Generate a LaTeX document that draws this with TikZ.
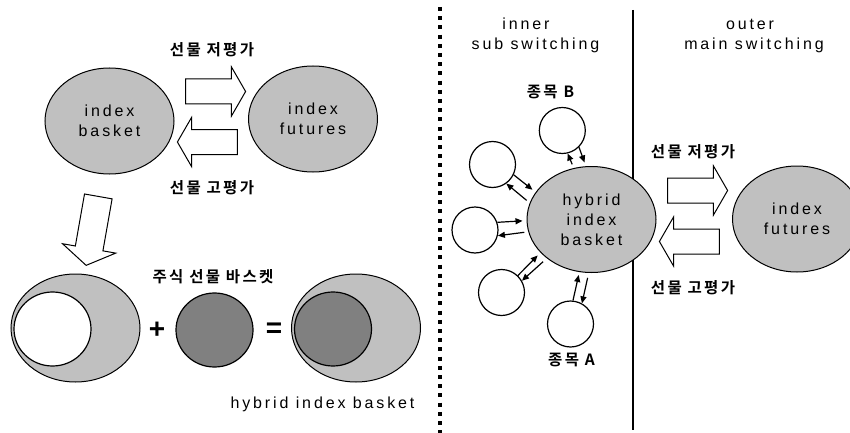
\documentclass[tikz,border=0pt]{standalone}
\usepackage{fontspec}
\setmainfont{Liberation Sans}[LetterSpace=18]
\newfontfamily\kofont{Noto Sans CJK KR}[BoldFont={* Bold}, LetterSpace=15]
\usepackage{xcolor}
\usetikzlibrary{shapes.geometric, shapes.arrows, arrows.meta}

\definecolor{silver}{HTML}{C0C0C0}
\definecolor{darkfill}{HTML}{808080}

\begin{document}
\begin{tikzpicture}[
    x=1pt, y=-1pt,
    basket/.style={ellipse, draw=black, line width=1pt, fill=silver, minimum width=129pt, minimum height=106pt, inner sep=0pt, align=center, font=\fontsize{16}{20}\selectfont, execute at begin node={\rule{0pt}{20pt}}},
    core/.style={ellipse, draw=black, line width=1.2pt, minimum width=77pt, minimum height=74pt, inner sep=0pt},
    stock/.style={circle, draw=black, line width=1.2pt, fill=white, minimum size=46pt, inner sep=0pt},
    fatarrow/.style={single arrow, draw=black, line width=1pt, fill=white, inner xsep=0pt, inner ysep=12pt, minimum height=60pt, single arrow head extend=12pt, single arrow tip angle=120, single arrow head indent=0pt},
    smallarrow/.style={-{Triangle[length=7pt,width=6pt]}, line width=1.2pt},
    kolabel/.style={font=\kofont\bfseries\fontsize{15.5}{18}\selectfont},
    heading/.style={font=\fontsize{16}{20}\selectfont, anchor=base},
    sign/.style={font=\bfseries\fontsize{28}{30}\selectfont},
]
\useasboundingbox (0,0) rectangle (850,433);
\clip (0,0) rectangle (850,433);

% Top left: basket vs futures
\node[basket] (basket) at (109.5,121) {index\\basket};
\node[basket] (futures) at (313,119) {index\\futures};
\node[fatarrow] (under) at (212,91.5) {};
\node[fatarrow, rotate=180] (over) at (211,142) {};
\node[kolabel] (underlbl) at (212,50) {선물 저평가};
\node[kolabel] (overlbl) at (212,188) {선물 고평가};

% Down to the composition
\node[fatarrow, rotate=260, minimum height=70pt, inner ysep=13.5pt, single arrow head extend=13pt, single arrow tip angle=115] (down) at (93,226.5) {};

% Bottom left: basket + futures = hybrid
\node[basket, minimum height=108pt] (oldbasket) at (75.5,328) {};
\node[core, fill=white] (oldcore) at (52.5,329) {};
\node[sign] (plus) at (157,330) {+};
\node[core, fill=darkfill] (stockfut) at (214.5,330) {};
\node[sign] (equals) at (274,330) {=};
\node[basket, minimum height=108pt] (newbasket) at (356,328) {};
\node[core, fill=darkfill] (newcore) at (333,329) {};
\node[kolabel] (stockfutlbl) at (213,277) {주식 선물 바스켓};
\node[heading] (hybridlbl) at (322.5,408) {hybrid index basket};

% Separators
\draw[line width=4pt, dash pattern=on 4pt off 5.2pt] (440,7) -- (440,433);
\draw[line width=1.2pt] (633,10) -- (633,430);

% Inner sub switching
\node[heading] (inner) at (526,30) {inner};
\node[heading] (subsw) at (535.5,50) {sub switching};
\node[basket] (hybrid) at (591.5,219.5) {hybrid\\index\\basket};
\node[stock] (stockB) at (562.3,130.5) {};
\node[stock] (stockUL) at (492.5,164.5) {};
\node[stock] (stockL) at (475,230) {};
\node[stock] (stockLL) at (501.5,292.5) {};
\node[stock] (stockA) at (570.5,324) {};
\node[kolabel] (lblB) at (550.5,92) {종목 B};
\node[kolabel] (lblA) at (571.5,360) {종목 A};

\draw[smallarrow, shorten <=4pt] (hybrid.109) -- (stockB.-77);
\draw[smallarrow, shorten >=4pt] (stockB.-45) -- (hybrid.96);
\draw[smallarrow, shorten >=4pt] (stockUL.-26) -- (hybrid.154);
\draw[smallarrow, shorten <=4pt] (hybrid.165) -- (stockUL.-54);
\draw[smallarrow, shorten >=4pt] (stockL.19) -- (hybrid.181);
\draw[smallarrow, shorten <=4pt] (hybrid.191) -- (stockL.-14);
\draw[smallarrow, shorten >=4pt] (stockLL.46) -- (hybrid.213);
\draw[smallarrow, shorten <=5pt] (hybrid.221) -- (stockLL.30);
\draw[smallarrow, shorten >=3pt] (stockA.84) -- (hybrid.257);
\draw[smallarrow, shorten <=5pt] (hybrid.267) -- (stockA.61);

% Outer main switching
\node[heading] (outer) at (750,30) {outer};
\node[heading] (mainsw) at (754,50) {main switching};
\node[fatarrow] (underR) at (694,190.5) {};
\node[fatarrow, rotate=180] (overR) at (693,241.5) {};
\node[basket] (futuresR) at (797,219) {index\\futures};
\node[kolabel] (underRlbl) at (693,152) {선물 저평가};
\node[kolabel] (overRlbl) at (693,288) {선물 고평가};

\end{tikzpicture}
\end{document}
